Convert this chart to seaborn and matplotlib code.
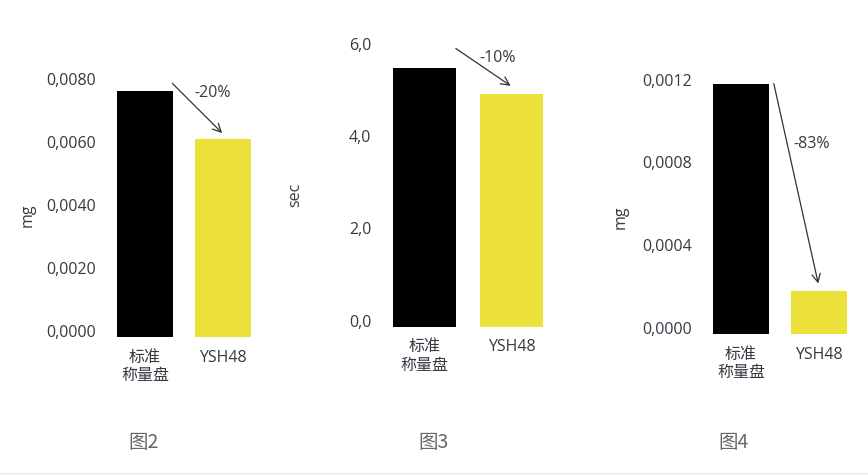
import matplotlib
matplotlib.use("Agg")
import matplotlib.pyplot as plt
import matplotlib.transforms as mtransforms
from matplotlib.patches import Rectangle
import seaborn as sns

# data
categories = ["标准\n称量盘", "YSH48"]
fig2_values = [0.0078, 0.0063]
fig3_values = [5.60, 5.05]
fig4_values = [0.00121, 0.00021]
fig2_ticks = [0.0, 0.002, 0.004, 0.006, 0.008]
fig3_ticks = [0.0, 2.0, 4.0, 6.0]
fig4_ticks = [0.0, 0.0004, 0.0008, 0.0012]
fig2_ticklabels = ["0,0000", "0,0020", "0,0040", "0,0060", "0,0080"]
fig3_ticklabels = ["0,0", "2,0", "4,0", "6,0"]
fig4_ticklabels = ["0,0000", "0,0004", "0,0008", "0,0012"]
changes = ["-20%", "-10%", "-83%"]
units = ["mg", "sec", "mg"]
captions = ["图2", "图3", "图4"]

sns.set_theme(style="white")
plt.rcParams["font.family"] = ["Open Sans", "Noto Sans CJK SC", "DejaVu Sans"]

bar_colors = ["#000000", "#ECE03A"]
txt = "#353a42"
fs = 11.5

fig = plt.figure(figsize=(8.68, 4.75), dpi=100)


def shifted(ax, dy):
    return ax.transData + mtransforms.ScaledTranslation(0, dy / 100, fig.dpi_scale_trans)


panels = [
    # rect, values, ticks, labels, ylabel coords, arrow (x0, dy0, x1, dy1), text (x, frac, dy)
    ([0.1221, 0.2905, 0.1797, 0.5305], fig2_values, fig2_ticks, fig2_ticklabels,
     (-70 / 156, 0.484), (0.35, 8, 0.99, 5.5), (0.87, 1.0, -2)),
    ([0.4389, 0.3122, 0.2005, 0.5825], fig3_values, fig3_ticks, fig3_ticklabels,
     (-78 / 174, 0.476), (0.36, 20, 0.99, 8), (0.84, 1.0, 10)),
    ([0.8088, 0.2968, 0.1797, 0.5229], fig4_values, fig4_ticks, fig4_ticklabels,
     (-73 / 156, 0.471), (0.42, 0, 0.99, 7), (0.91, 0.71, 0)),
]

for i, (rect, vals, ticks, tlabels, ylc, arr, tpos) in enumerate(panels):
    ax = fig.add_axes(rect)
    sns.barplot(x=categories, y=vals, hue=categories, palette=bar_colors,
                width=0.72, saturation=1, legend=False, ax=ax)
    for p in ax.patches:
        p.set_clip_on(False)
        p.set_linewidth(0)
    ax.set_xlim(-0.5, 1.5)
    ax.set_ylim(ticks[0], ticks[-1])
    ax.set_yticks(ticks)
    ax.set_yticklabels(tlabels)
    sns.despine(ax=ax, left=True, bottom=True)
    ax.tick_params(axis="y", length=0, pad=7, labelsize=fs, labelcolor=txt)
    ax.tick_params(axis="x", length=0, pad=9, labelsize=fs, labelcolor=txt)
    for lbl in ax.get_yticklabels():
        lbl.set_transform(lbl.get_transform()
                          + mtransforms.ScaledTranslation(0, 6 / 100, fig.dpi_scale_trans))
    ax.set_ylabel(units[i], fontsize=fs, color=txt)
    ax.yaxis.set_label_coords(*ylc)
    ax.set_xlabel("")

    x0, dy0, x1, dy1 = arr
    ax.annotate("", xy=(x1, vals[1]), xycoords=shifted(ax, dy1),
                xytext=(x0, vals[0]), textcoords=shifted(ax, dy0),
                arrowprops=dict(arrowstyle="->,head_length=0.5,head_width=0.25",
                                color="#333333", lw=0.9, shrinkA=0, shrinkB=0),
                annotation_clip=False)
    tx, frac, tdy = tpos
    ty = vals[1] + frac * (vals[0] - vals[1])
    ax.text(tx, ty, changes[i], transform=shifted(ax, tdy), ha="center", va="center",
            fontsize=fs, color=txt, clip_on=False)

for cx, cap in zip([144, 433, 734], captions):
    fig.text(cx / 868, 1 - 443 / 475, cap, ha="center", va="center",
             fontsize=14, color="#666666", family=["Noto Sans CJK SC", "DejaVu Sans"])

fig.patches.append(Rectangle((0, 0), 1, 2 / 475, transform=fig.transFigure,
                             color="#eeeeee", zorder=0))

fig.savefig("out.png", dpi=100)
